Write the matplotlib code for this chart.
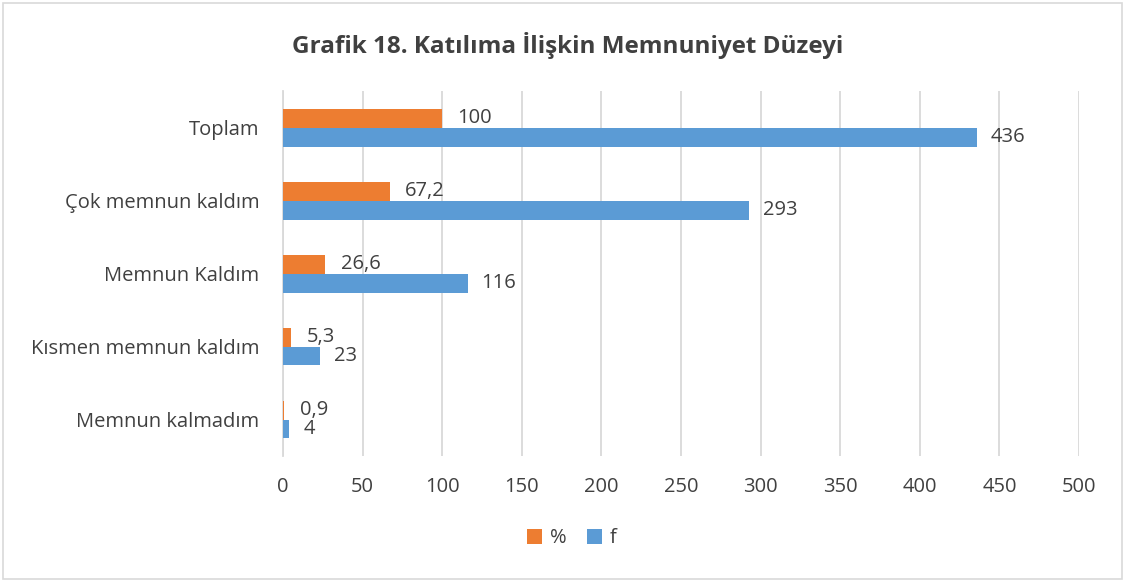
import matplotlib.pyplot as plt
from matplotlib.patches import Rectangle

categories = ["Memnun kalmadım", "Kısmen memnun kaldım", "Memnun Kaldım",
              "Çok memnun kaldım", "Toplam"]
pct = [0.9, 5.3, 26.6, 67.2, 100]
freq = [4, 23, 116, 293, 436]
pct_labels = ["0,9", "5,3", "26,6", "67,2", "100"]
freq_labels = ["4", "23", "116", "293", "436"]

orange = "#ED7D31"
blue = "#5B9BD5"
txt = "#404040"

plt.rcParams['font.family'] = ['Open Sans', 'DejaVu Sans']

fig = plt.figure(figsize=(11.25, 5.82), dpi=100)
ax = fig.add_axes([0.2516, 0.2165, 0.7075, 0.627])

h = 0.26
y = list(range(len(categories)))
b1 = ax.barh([v + h / 2 for v in y], pct, height=h, color=orange, label="%", zorder=3)
b2 = ax.barh([v - h / 2 for v in y], freq, height=h, color=blue, label="f", zorder=3)

for i in y:
    ax.annotate(pct_labels[i], (pct[i], i + h / 2), xytext=(11, 0),
                textcoords="offset points", va="center", ha="left",
                fontsize=14.5, color=txt)
    ax.annotate(freq_labels[i], (freq[i], i - h / 2), xytext=(10, 0),
                textcoords="offset points", va="center", ha="left",
                fontsize=14.5, color=txt)

ax.set_xlim(0, 500)
ax.set_ylim(-0.5, len(categories) - 0.5)
ax.set_xticks(range(0, 501, 50))
ax.set_yticks(y)
ax.set_yticklabels(categories)
ax.tick_params(axis="both", length=0, labelsize=14.5, colors=txt)
ax.tick_params(axis="x", pad=15)
ax.tick_params(axis="y", pad=17)
ax.grid(axis="x", color="#d9d9d9", linewidth=1.3, zorder=0)
for s in ["top", "right", "bottom"]:
    ax.spines[s].set_visible(False)
ax.spines["left"].set_color("#d9d9d9")
ax.spines["left"].set_linewidth(1.3)

fig.text(0.505, 0.922, "Grafik 18. Katılıma İlişkin Memnuniyet Düzeyi",
         ha="center", va="center", fontsize=17.5, fontweight="bold", color=txt)

fig.legend(handles=[b1, b2], loc="center", bbox_to_anchor=(0.508, 0.075), ncol=2,
           frameon=False, fontsize=14.5, handlelength=0.75, handleheight=0.75,
           columnspacing=1.0, handletextpad=0.4, labelcolor=txt)

fig.patches.append(Rectangle((0.003, 0.005), 0.994, 0.99, transform=fig.transFigure,
                             fill=False, edgecolor="#d9d9d9", linewidth=1.2))

fig.savefig("out.png", dpi=100)
